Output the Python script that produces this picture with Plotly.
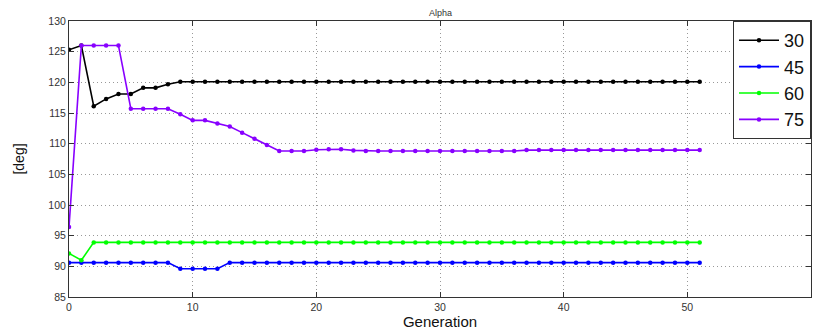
import plotly.graph_objects as go

generations = list(range(0, 52))

s30 = [125.3, 126.0, 116.1, 117.3, 118.1, 118.1, 119.1, 119.1, 119.7, 120.1] + [120.1] * 42
s45 = [90.6] * 9 + [89.6, 89.6, 89.6, 89.6] + [90.6] * 39
s60 = [92.1, 91.0] + [93.9] * 50
s75 = ([96.4, 126.0, 126.0, 126.0, 126.0, 115.7, 115.7, 115.7, 115.7, 114.8,
        113.8, 113.8, 113.3, 112.8, 111.8, 110.8, 109.8, 108.8, 108.8, 108.8,
        109.0, 109.1, 109.1, 108.9] + [108.8] * 13 + [108.95] * 15)

series_names = ["30", "45", "60", "75"]
series_values = [s30, s45, s60, s75]
series_colors = ["#000000", "#0000ff", "#00ff00", "#8800ff"]

x_ticks = [0, 10, 20, 30, 40, 50, 60]
y_ticks = [85, 90, 95, 100, 105, 110, 115, 120, 125, 130]

fig = go.Figure()
for name, vals, col in zip(series_names, series_values, series_colors):
    fig.add_trace(go.Scatter(
        x=generations, y=vals, name=name, mode="lines+markers",
        line=dict(color=col, width=1.6),
        marker=dict(color=col, size=4.5),
    ))

axis_common = dict(
    showline=True, linecolor="#333333", linewidth=1, mirror="ticks",
    ticks="inside", ticklen=5, tickcolor="#333333",
    showgrid=True, gridcolor="#999999", griddash="1px,3px", gridwidth=1,
    zeroline=False,
    tickfont=dict(family="Liberation Sans, Arial", size=10.5, color="#333333"),
)

fig.update_layout(
    width=816, height=334,
    margin=dict(l=69, r=5, t=21, b=37),
    paper_bgcolor="white", plot_bgcolor="white",
    title=dict(text="Alpha", x=0.54, xanchor="center", y=0.97, yanchor="top",
               font=dict(family="Liberation Sans, Arial", size=9, color="#333333")),
    xaxis=dict(range=[0, 60], tickvals=x_ticks,
               title=dict(text="Generation", standoff=4,
                          font=dict(family="Liberation Sans, Arial", size=15, color="#111111")),
               **axis_common),
    yaxis=dict(range=[85, 130], tickvals=y_ticks,
               title=dict(text="[deg]", standoff=20,
                          font=dict(family="Liberation Sans, Arial", size=14, color="#111111")),
               **axis_common),
    legend=dict(x=1, y=1, xanchor="right", yanchor="top",
                bordercolor="#333333", borderwidth=1, bgcolor="white",
                font=dict(family="Liberation Sans, Arial", size=18, color="#111111"),
                itemwidth=40, tracegroupgap=0),
    showlegend=True,
)

fig.write_html("out.html")
